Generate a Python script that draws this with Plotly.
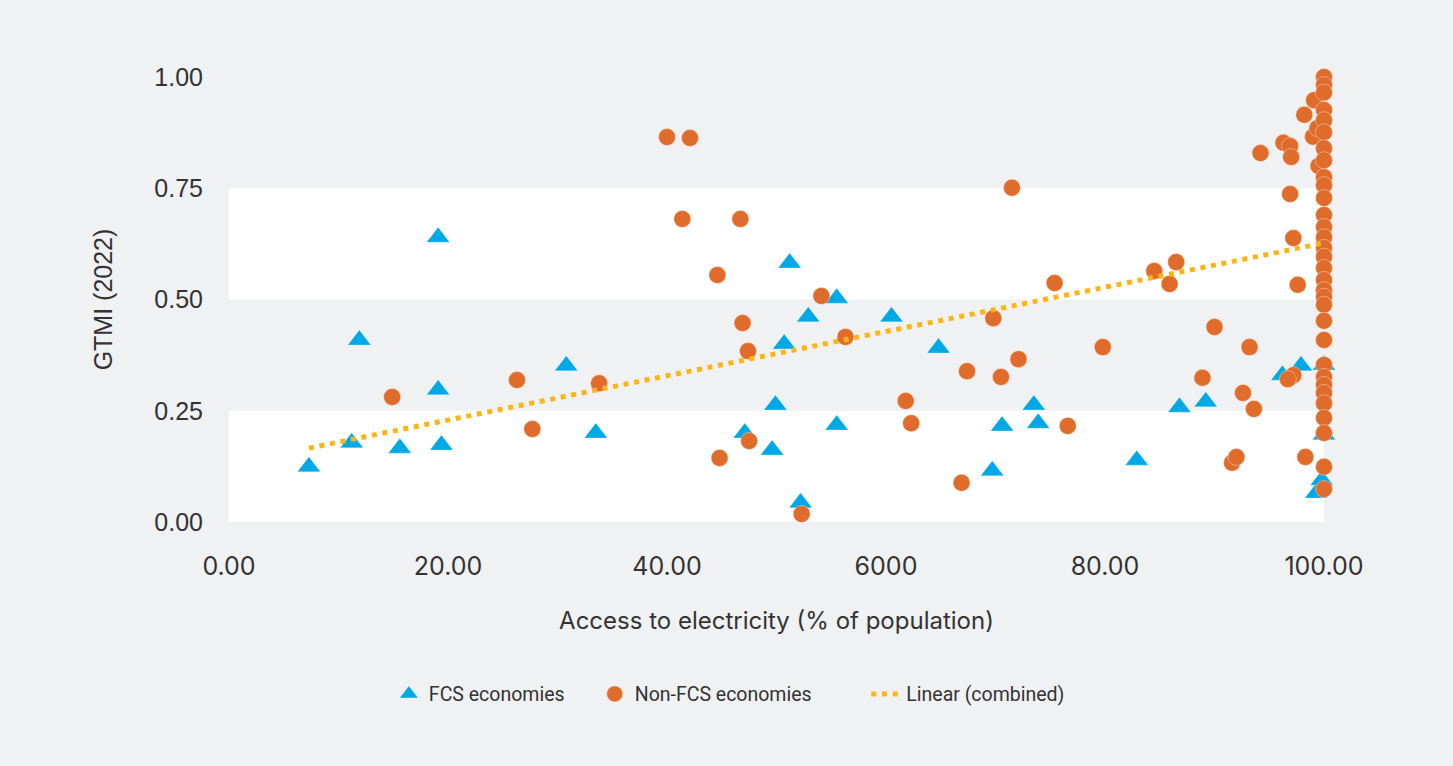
import plotly.graph_objects as go

# FCS economies: access to electricity (%) vs GTMI score
fcs_access = [7.3, 11.2, 11.9, 15.6, 19.1, 19.1, 19.4, 30.8, 33.5, 47.1, 49.9, 49.6,
              50.7, 51.2, 52.2, 52.9, 55.5, 55.5, 60.5, 64.8, 69.7, 70.6, 73.5, 73.9,
              82.9, 86.8, 89.2, 96.2, 97.9, 100.0, 100.0, 99.3, 99.8]
fcs_gtmi = [0.124, 0.178, 0.409, 0.166, 0.640, 0.297, 0.173, 0.351, 0.200, 0.200, 0.263, 0.162,
            0.400, 0.582, 0.043, 0.461, 0.503, 0.218, 0.461, 0.391, 0.115, 0.216, 0.263, 0.222,
            0.139, 0.258, 0.270, 0.330, 0.351, 0.353, 0.196, 0.065, 0.094]

# Non-FCS economies
nonfcs_access = [14.9, 26.3, 27.7, 33.8, 40.0, 42.1, 41.4, 46.7, 44.6, 46.9, 47.4, 44.8,
                 47.5, 54.1, 56.3, 52.3, 61.8, 62.3, 66.9, 67.4, 69.8, 70.5, 71.5, 72.1,
                 75.4, 76.6, 79.8, 84.5, 85.9, 86.5, 88.9, 90.0, 91.6, 92.0, 92.6, 93.2,
                 93.6, 94.2, 96.3, 96.9, 97.0, 96.9, 97.2, 97.6, 97.2, 96.7, 98.2, 98.3,
                 99.0, 99.1, 99.4, 99.5,
                 100.0, 100.0, 100.0, 100.0, 100.0, 100.0, 100.0, 100.0, 100.0, 100.0,
                 100.0, 100.0, 100.0, 100.0, 100.0, 100.0, 100.0, 100.0, 100.0, 100.0,
                 100.0, 100.0, 100.0, 100.0, 100.0, 100.0, 100.0, 100.0, 100.0, 100.0,
                 100.0, 100.0]
nonfcs_gtmi = [0.281, 0.319, 0.209, 0.312, 0.865, 0.863, 0.681, 0.681, 0.555, 0.447, 0.384, 0.144,
               0.182, 0.508, 0.416, 0.018, 0.272, 0.222, 0.088, 0.339, 0.458, 0.326, 0.751, 0.366,
               0.537, 0.216, 0.393, 0.564, 0.535, 0.584, 0.324, 0.438, 0.133, 0.146, 0.290, 0.393,
               0.254, 0.829, 0.852, 0.845, 0.820, 0.737, 0.638, 0.533, 0.330, 0.321, 0.915, 0.146,
               0.866, 0.948, 0.885, 0.800,
               1.000, 0.982, 0.965, 0.926, 0.903, 0.876, 0.840, 0.813, 0.775, 0.757,
               0.728, 0.690, 0.663, 0.640, 0.616, 0.596, 0.571, 0.544, 0.521, 0.506,
               0.488, 0.452, 0.409, 0.353, 0.326, 0.308, 0.290, 0.267, 0.234, 0.200,
               0.124, 0.074]

# Linear trend over the combined sample (end points)
trend_access = [7.3, 100.0]
trend_gtmi = [0.166, 0.627]

# Axis ticks
x_tickvals = [0, 20, 40, 60, 80, 100]
x_ticktext = ["0.00", "20.00", "40.00", "6000", "80.00", "100.00"]
y_tickvals = [0, 0.25, 0.5, 0.75, 1.0]
y_ticktext = ["0.00", "0.25", "0.50", "0.75", "1.00"]

# Alternating white bands behind the points
band_low = [0.0, 0.5]
band_high = [0.25, 0.75]

BG = "#f0f1f3"
BLUE = "#00a9e6"
ORANGE = "#e06c2c"
GOLD = "#fdb515"
TEXT = "#333333"

fig = go.Figure()

fig.add_trace(go.Scatter(
    x=fcs_access, y=fcs_gtmi, mode="markers", name="FCS economies",
    marker=dict(symbol="triangle-up", size=20, color=BLUE,
                line=dict(width=0.8, color="rgba(255,255,255,0.35)")),
    cliponaxis=False, legend="legend",
))
fig.add_trace(go.Scatter(
    x=nonfcs_access, y=nonfcs_gtmi, mode="markers", name="Non-FCS economies",
    marker=dict(symbol="circle", size=17, color=ORANGE,
                line=dict(width=0.8, color="rgba(255,220,200,0.6)")),
    cliponaxis=False, legend="legend2",
))
fig.add_trace(go.Scatter(
    x=trend_access, y=trend_gtmi, mode="lines", name="Linear (combined)",
    line=dict(color=GOLD, width=5, dash="5px,5.7px"),
    cliponaxis=False, legend="legend3",
))

for lo, hi in zip(band_low, band_high):
    fig.add_shape(type="rect", xref="x", yref="y", x0=0, x1=100, y0=lo, y1=hi,
                  fillcolor="white", line=dict(width=0), layer="below")

legend_style = dict(orientation="h", xanchor="left", y=-0.387, yanchor="middle",
                    font=dict(family="Roboto", size=19.5, color=TEXT),
                    bgcolor="rgba(0,0,0,0)", itemsizing="trace")

fig.update_layout(
    width=1453, height=766,
    paper_bgcolor=BG, plot_bgcolor=BG,
    margin=dict(l=229, r=129, t=77, b=244),
    showlegend=True,
    legend=dict(legend_style, x=0.146),
    legend2=dict(legend_style, x=0.334),
    legend3=dict(legend_style, x=0.582),
    xaxis=dict(range=[0, 100], tickvals=x_tickvals, ticktext=x_ticktext,
               showgrid=False, zeroline=False, showline=False,
               ticks="outside", ticklen=22, tickcolor="rgba(0,0,0,0)",
               tickfont=dict(family="Inter", size=25, color=TEXT),
               title=dict(text="Access to electricity (% of population)",
                          font=dict(family="Inter", size=24, color=TEXT), standoff=32)),
    yaxis=dict(range=[0, 1], tickvals=y_tickvals, ticktext=y_ticktext,
               showgrid=False, zeroline=False, showline=False,
               ticks="outside", ticklen=20, tickcolor="rgba(0,0,0,0)",
               tickfont=dict(family="Liberation Sans", size=25, color=TEXT),
               title=dict(text="GTMI (2022)",
                          font=dict(family="Liberation Sans", size=25, color=TEXT), standoff=34)),
)

fig.write_html("out.html")
